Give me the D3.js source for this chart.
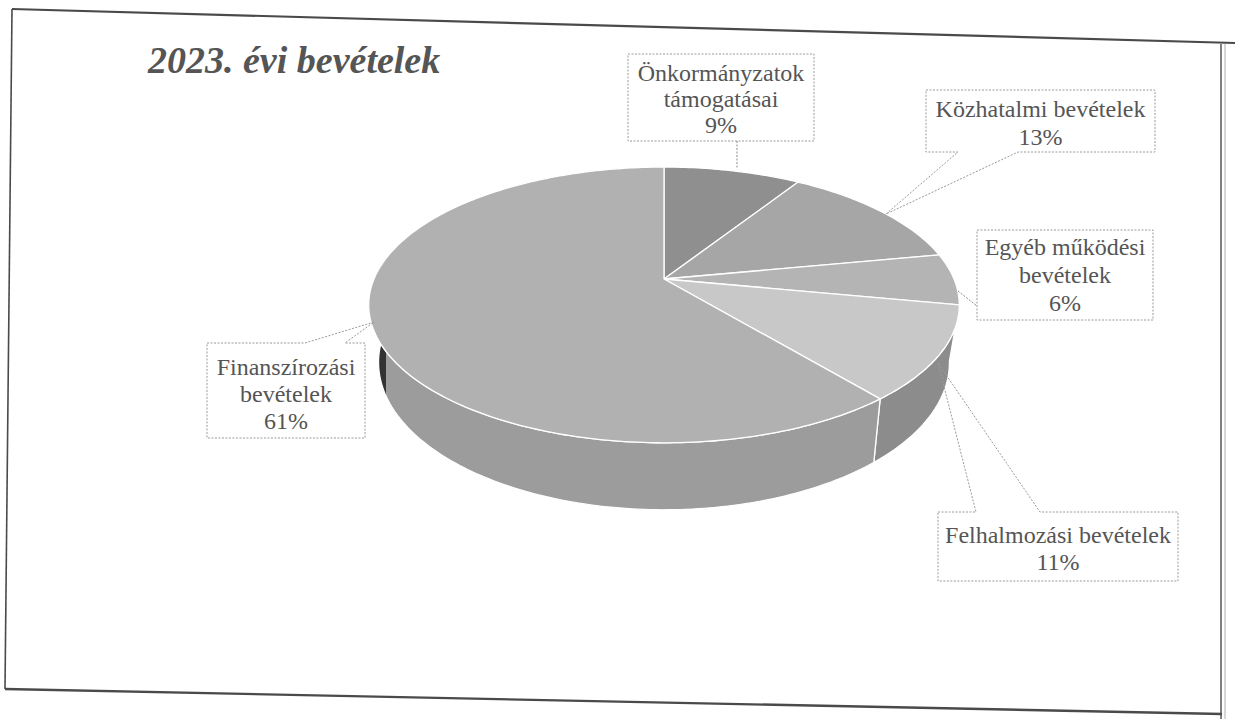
<!DOCTYPE html>
<html>
<head>
<meta charset="utf-8">
<script src="https://cdn.jsdelivr.net/npm/d3@7"></script>
<style>
  html, body { margin: 0; padding: 0; background: #fff; }
  svg { display: block; }
</style>
</head>
<body>
<script>
// Chart data
var categories = ["Önkormányzatok támogatásai", "Közhatalmi bevételek", "Egyéb működési bevételek", "Felhalmozási bevételek", "Finanszírozási bevételek"];
var shares = [9, 13, 6, 11, 61];
var labelLines = [["Önkormányzatok", "támogatásai"], ["Közhatalmi bevételek"], ["Egyéb működési", "bevételek"], ["Felhalmozási bevételek"], ["Finanszírozási", "bevételek"]];
var title = "2023. évi bevételek";

// Look of the slices
var topColors = ["#8f8f8f", "#a6a6a6", "#b4b4b4", "#c8c8c8", "#b1b1b1"];
var sideColors = ["#7c7c7c", "#8c8c8c", "#909090", "#8c8c8c", "url(#finSide)"];

// Label boxes: [left, top, right, bottom], first baseline, line gap, pointer
var labelBoxes = [
  {box: [628, 54, 814, 141], base: 81, gap: 26, lead: [[737, 141], [737, 168]]},
  {box: [926, 90, 1155, 152], base: 117, gap: 28, tip: [886, 214], side: "bottom", p: [958, 1018]},
  {box: [977, 230, 1153, 320], base: 255, gap: 28, lead: [[958, 291], [977, 306]]},
  {box: [938, 512, 1178, 581], base: 543, gap: 27, tip: [938, 363], side: "top", p: [976, 1040]},
  {box: [207, 343, 365, 438], base: 375, gap: 27, tip: [374, 322], side: "top", p: [305, 345]}
];

var W = 1235, H = 719;
var svg = d3.select("body").append("svg")
    .attr("width", W)
    .attr("height", H);

// Scanned page frame (a bit skewed)
var frame = svg.append("g").attr("stroke", "#4a4a4a").attr("fill", "none");
frame.append("line").attr("x1", 12).attr("y1", 9).attr("x2", 1235).attr("y2", 43).attr("stroke-width", 2.2);
frame.append("line").attr("x1", 12).attr("y1", 9).attr("x2", 5).attr("y2", 689).attr("stroke-width", 1.6);
frame.append("line").attr("x1", 5).attr("y1", 689).attr("x2", 1222).attr("y2", 714).attr("stroke-width", 2.4);
frame.append("line").attr("x1", 1221).attr("y1", 44).attr("x2", 1221).attr("y2", 719).attr("stroke-width", 1.4);
frame.append("line").attr("x1", 1225).attr("y1", 44).attr("x2", 1225).attr("y2", 719).attr("stroke-width", 0.8).attr("stroke", "#999");

var defs = svg.append("defs");
var grad = defs.append("linearGradient")
    .attr("id", "finSide")
    .attr("gradientUnits", "userSpaceOnUse")
    .attr("x1", 366).attr("y1", 0).attr("x2", 400).attr("y2", 0);
grad.append("stop").attr("offset", 0).attr("stop-color", "#2c2c2c");
grad.append("stop").attr("offset", 0.58).attr("stop-color", "#333");
grad.append("stop").attr("offset", 0.6).attr("stop-color", "#9c9c9c");
grad.append("stop").attr("offset", 1).attr("stop-color", "#9c9c9c");

// Pie projection (tilted disc with a little perspective)
var cx = 664, cy = 279, rx = 290, ry = 133, persp = 0.188, depth = 54.4, shrink = 10;

function topPt(t){
    var u = Math.sin(t), v = -Math.cos(t), w = 1 - persp * v;
    return [cx + rx * u / w, cy + ry * v / w];
}
function botPt(t){
    var u = Math.sin(t), v = -Math.cos(t), w = 1 - persp * v;
    return [cx + rx * u / w - shrink * u, cy + ry * v / w + depth / w];
}
function arcPts(f, a0, a1){
    var n = Math.max(2, Math.ceil((a1 - a0) / (Math.PI / 180)));
    var pts = [];
    for(var i = 0; i <= n; i++){
        pts.push(f(a0 + (a1 - a0) * i / n));
    }
    return pts;
}

var arcs = d3.pie().sort(null).value(function(d){ return d; })(shares);
var line = d3.line();

// Sides first, far ones before near ones
var lo = Math.PI / 2 - 0.3, hi = 3 * Math.PI / 2 + 0.3;
var sides = [];
arcs.forEach(function(a, i){
    var s = Math.max(a.startAngle, lo), e = Math.min(a.endAngle, hi);
    if(e > s){
        sides.push({i: i, s: s, e: e, key: Math.abs((s + e) / 2 - Math.PI)});
    }
});
sides.sort(function(a, b){ return b.key - a.key; });

svg.append("g").selectAll("path")
   .data(sides)
   .enter()
   .append("path")
   .attr("d", function(d){
      var pts = arcPts(topPt, d.s, d.e).concat(arcPts(botPt, d.s, d.e).reverse());
      return line(pts) + "Z";
   })
   .attr("fill", function(d){ return sideColors[d.i]; })
   .attr("stroke", "#fff")
   .attr("stroke-width", 1.3)
   .attr("stroke-linejoin", "round");

// Top faces
svg.append("g").selectAll("path")
   .data(arcs)
   .enter()
   .append("path")
   .attr("d", function(d){
      var pts = [[cx, cy]].concat(arcPts(topPt, d.startAngle, d.endAngle));
      return line(pts) + "Z";
   })
   .attr("fill", function(d, i){ return topColors[i]; })
   .attr("stroke", "#fff")
   .attr("stroke-width", 1.3)
   .attr("stroke-linejoin", "round");

// Title
svg.append("text")
   .attr("x", 148)
   .attr("y", 73)
   .attr("font-family", "'Liberation Serif', 'Times New Roman', serif")
   .attr("font-size", 38)
   .attr("font-weight", "bold")
   .attr("font-style", "italic")
   .attr("fill", "#555")
   .text(title);

// Data label callouts
function calloutPath(c){
    var b = c.box, l = b[0], t = b[1], r = b[2], btm = b[3];
    if(c.side == "bottom"){
        return line([[l, t], [r, t], [r, btm], [c.p[1], btm], c.tip, [c.p[0], btm], [l, btm]]) + "Z";
    }
    if(c.side == "top"){
        return line([[l, t], [c.p[0], t], c.tip, [c.p[1], t], [r, t], [r, btm], [l, btm]]) + "Z";
    }
    return line([[l, t], [r, t], [r, btm], [l, btm]]) + "Z";
}

var labels = svg.append("g");
labelBoxes.forEach(function(c, i){
    labels.append("path")
       .attr("d", calloutPath(c))
       .attr("fill", "#fff")
       .attr("fill-opacity", 0)
       .attr("stroke", "#9a9a9a")
       .attr("stroke-width", 1)
       .attr("stroke-dasharray", "2,1.5");
    if(c.lead){
        labels.append("path")
           .attr("d", line(c.lead))
           .attr("stroke", "#8a8a8a")
           .attr("stroke-width", 1)
           .attr("stroke-dasharray", "2,1.5")
           .attr("fill", "none");
    }
    var lines = labelLines[i].concat([shares[i] + "%"]);
    var tx = (c.box[0] + c.box[2]) / 2;
    labels.append("text")
       .attr("font-family", "'Liberation Serif', 'Times New Roman', serif")
       .attr("font-size", 24)
       .attr("fill", "#555")
       .attr("text-anchor", "middle")
       .selectAll("tspan")
       .data(lines)
       .enter()
       .append("tspan")
       .attr("x", tx)
       .attr("y", function(d, j){ return c.base + j * c.gap; })
       .text(function(d){ return d; });
});
</script>
</body>
</html>
